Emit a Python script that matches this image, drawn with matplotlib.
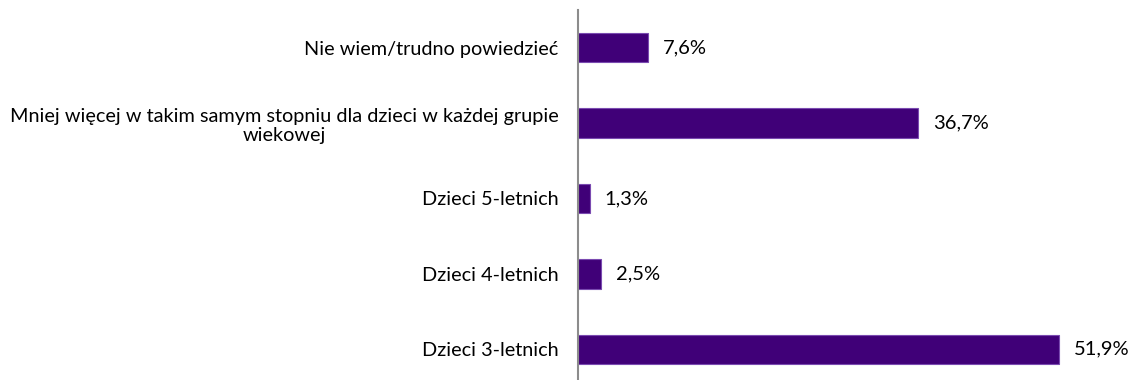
import matplotlib
matplotlib.use("Agg")
import matplotlib.pyplot as plt

plt.rcParams['font.family'] = ['Lato', 'DejaVu Sans']

# Answer categories, bottom to top
categories = [
    "Dzieci 3-letnich",
    "Dzieci 4-letnich",
    "Dzieci 5-letnich",
    "Mniej więcej w takim samym stopniu dla dzieci w każdej grupie\nwiekowej",
    "Nie wiem/trudno powiedzieć",
]
values = [51.9, 2.5, 1.3, 36.7, 7.6]
value_labels = ["51,9%", "2,5%", "1,3%", "36,7%", "7,6%"]

W, H = 1139, 380
fig = plt.figure(figsize=(W / 100, H / 100), dpi=100)

ax_left = 578 / W
px_per_unit = 9.26
xmax = 60
ax_w = xmax * px_per_unit / W
unit_h = 75.4
ax_top = (H - 10) / H
ax_h = 5 * unit_h / H
ax = fig.add_axes([ax_left, ax_top - ax_h, ax_w, ax_h])

pos = list(range(len(categories)))
ax.barh(pos, values, height=0.39, color="#400078", edgecolor="#7a4ab0",
        linewidth=0.8, zorder=2)

for p, v, lab in zip(pos, values, value_labels):
    ax.text(v + 1.6, p, lab, va="center", ha="left", fontsize=14.5,
            color="#000000")

ax.set_xlim(0, xmax)
ax.set_ylim(-0.5, 4.5)
ax.set_yticks(pos)
ax.set_yticklabels(categories, fontsize=14.3, multialignment="center",
                   linespacing=1.15)
ax.tick_params(axis="y", length=0, pad=14)
ax.set_xticks([])

for side in ("top", "right", "bottom"):
    ax.spines[side].set_visible(False)
ax.spines["left"].set_color("#8c8c8c")
ax.spines["left"].set_linewidth(1.5)

fig.savefig("out.png", dpi=100)
